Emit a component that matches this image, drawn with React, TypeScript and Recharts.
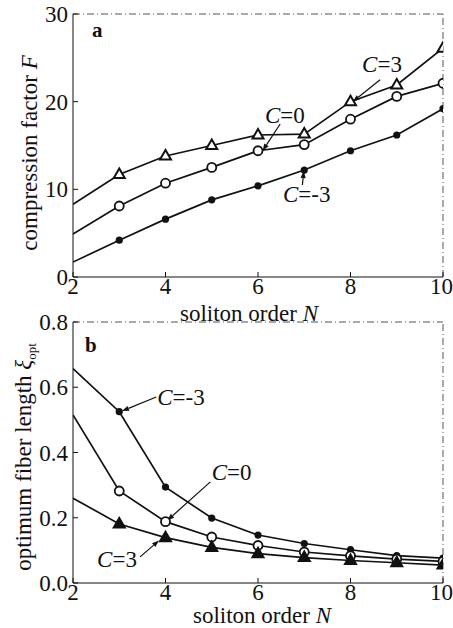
import React from 'react';
import { LineChart, Line, XAxis, YAxis, ReferenceLine, ReferenceDot, Label } from 'recharts';

const ORDERS = [2, 3, 4, 5, 6, 7, 8, 9, 10];
// panel a: compression factor F
const F_C3 = [8.3, 11.7, 13.8, 15.0, 16.2, 16.3, 20.0, 21.9, 26.1];
const F_C0 = [4.9, 8.1, 10.7, 12.5, 14.4, 15.1, 18.0, 20.6, 22.1];
const F_CM3 = [1.7, 4.2, 6.6, 8.8, 10.4, 12.2, 14.4, 16.2, 19.2];
// panel b: optimum fiber length
const XI_CM3 = [0.657, 0.525, 0.294, 0.199, 0.147, 0.121, 0.102, 0.084, 0.076];
const XI_C0 = [0.515, 0.282, 0.188, 0.141, 0.115, 0.095, 0.083, 0.073, 0.066];
const XI_C3 = [0.26, 0.181, 0.139, 0.109, 0.09, 0.078, 0.069, 0.062, 0.055];

const X_TICKS = [2, 4, 6, 8, 10];
const F_TICKS = [0, 10, 20, 30];
const XI_TICKS = [0, 0.2, 0.4, 0.6, 0.8];

// annotation arrows (data coords: from text to point)
const F_ARROWS = [
  { label: '3', tx: 8.25, ty: 23.4, x1: 8.64, y1: 22.5, x2: 8.05, y2: 20.0 },
  { label: '0', tx: 6.15, ty: 17.55, x1: 6.48, y1: 17.45, x2: 6.1, y2: 14.4 },
  { label: '-3', tx: 6.54, ty: 8.55, x1: 6.96, y1: 10.5, x2: 6.99, y2: 12.1 },
];
const XI_ARROWS = [
  { label: '-3', tx: 3.82, ty: 0.545, x1: 3.8, y1: 0.57, x2: 3.06, y2: 0.527 },
  { label: '0', tx: 5.0, ty: 0.316, x1: 4.97, y1: 0.31, x2: 4.04, y2: 0.192 },
  { label: '3', tx: 2.52, ty: 0.05, x1: 3.45, y1: 0.08, x2: 3.86, y2: 0.13 },
];

const fData = ORDERS.map((n, i) => ({ N: n, c3: F_C3[i], c0: F_C0[i], cm3: F_CM3[i] }));
const xiData = ORDERS.map((n, i) => ({ N: n, c3: XI_C3[i], c0: XI_C0[i], cm3: XI_CM3[i] }));

const FONT = '"Liberation Serif", "DejaVu Serif", serif';
const INK = '#111';

// markers, none at N=2
const triDot = (fill: string) => (p: any) => {
  const { cx, cy, index } = p;
  if (index === 0) return <g key={`t${index}`} />;
  return (
    <polygon
      key={`t${index}`}
      points={`${cx},${cy - 6} ${cx - 5.5},${cy + 3.5} ${cx + 5.5},${cy + 3.5}`}
      fill={fill}
      stroke={INK}
      strokeWidth={2}
    />
  );
};
const ringDot = (p: any) => {
  const { cx, cy, index } = p;
  if (index === 0) return <g key={`r${index}`} />;
  return <circle key={`r${index}`} cx={cx} cy={cy} r={4.5} fill="#fff" stroke={INK} strokeWidth={1.8} />;
};
const fullDot = (p: any) => {
  const { cx, cy, index } = p;
  if (index === 0) return <g key={`d${index}`} />;
  return <circle key={`d${index}`} cx={cx} cy={cy} r={3.6} fill={INK} />;
};

function Arrow(p: any) {
  const { x1, y1, x2, y2 } = p;
  const ang = Math.atan2(y2 - y1, x2 - x1);
  const L = 7;
  const W = 2.6;
  const bx = x2 - L * Math.cos(ang);
  const by = y2 - L * Math.sin(ang);
  const px = -Math.sin(ang) * W;
  const py = Math.cos(ang) * W;
  return (
    <g>
      <line x1={x1} y1={y1} x2={bx} y2={by} stroke={INK} strokeWidth={1.2} />
      <polygon points={`${x2},${y2} ${bx + px},${by + py} ${bx - px},${by - py}`} fill={INK} />
    </g>
  );
}

const cLabel = (label: string) => (p: any) => (
  <text x={p.cx} y={p.cy} fontFamily={FONT} fontSize={23} fill={INK}>
    <tspan fontStyle="italic">C</tspan>={label}
  </text>
);

const panelLetter = (letter: string) => (p: any) => (
  <text x={p.cx} y={p.cy} fontFamily={FONT} fontSize={21} fontWeight="bold" fill={INK}>
    {letter}
  </text>
);

const tickStyle = { fontSize: 23, fill: INK, fontFamily: FONT };
const frameDash = '7 3 1 3';

export default function App() {
  return (
    <div style={{ position: 'absolute', left: 0, top: 0, width: 453, height: 628, background: '#fff' }}>
      {/* panel a */}
      <div style={{ position: 'absolute', left: 0, top: 0 }}>
        <LineChart width={453} height={328} data={fData} margin={{ top: 14, right: 10, bottom: 0, left: 8 }}>
          <XAxis
            type="number"
            dataKey="N"
            domain={[2, 10]}
            ticks={X_TICKS}
            allowDataOverflow
            stroke={INK}
            tickSize={-5}
            tickMargin={6}
            tick={tickStyle}
            height={51}
          >
            <Label
              content={() => (
                <text x={249} y={321} textAnchor="middle" fontFamily={FONT} fontSize={23} fill={INK}>
                  soliton order <tspan fontStyle="italic">N</tspan>
                </text>
              )}
            />
          </XAxis>
          <YAxis
            type="number"
            domain={[0, 30]}
            ticks={F_TICKS}
            allowDataOverflow
            stroke={INK}
            tickSize={-5}
            tickMargin={10}
            tick={tickStyle}
            width={65}
          >
            <Label
              content={() => (
                <text
                  transform="translate(37,153) rotate(-90)"
                  textAnchor="middle"
                  fontFamily={FONT}
                  fontSize={23}
                  fill={INK}
                >
                  compression factor <tspan fontStyle="italic">F</tspan>
                </text>
              )}
            />
          </YAxis>
          <ReferenceLine y={30} stroke="#555" strokeDasharray={frameDash} />
          <ReferenceLine x={10} stroke="#555" strokeDasharray={frameDash} />
          <Line dataKey="c3" stroke={INK} strokeWidth={1.7} dot={triDot('#fff')} isAnimationActive={false} />
          <Line dataKey="c0" stroke={INK} strokeWidth={1.7} dot={ringDot} isAnimationActive={false} />
          <Line dataKey="cm3" stroke={INK} strokeWidth={1.7} dot={fullDot} isAnimationActive={false} />
          {F_ARROWS.map((a) => (
            <ReferenceLine
              key={`fa${a.label}`}
              segment={[{ x: a.x1, y: a.y1 }, { x: a.x2, y: a.y2 }]}
              shape={Arrow}
            />
          ))}
          {F_ARROWS.map((a) => (
            <ReferenceDot key={`ft${a.label}`} x={a.tx} y={a.ty} shape={cLabel(a.label)} />
          ))}
          <ReferenceDot x={2.41} y={27.4} shape={panelLetter('a')} />
        </LineChart>
      </div>

      {/* panel b */}
      <div style={{ position: 'absolute', left: 0, top: 300 }}>
        <LineChart width={453} height={328} data={xiData} margin={{ top: 22, right: 10, bottom: 0, left: 8 }}>
          <XAxis
            type="number"
            dataKey="N"
            domain={[2, 10]}
            ticks={X_TICKS}
            allowDataOverflow
            stroke={INK}
            tickSize={-5}
            tickMargin={6}
            tick={tickStyle}
            height={45}
          >
            <Label
              content={() => (
                <text x={262} y={323} textAnchor="middle" fontFamily={FONT} fontSize={23} fill={INK}>
                  soliton order <tspan fontStyle="italic">N</tspan>
                </text>
              )}
            />
          </XAxis>
          <YAxis
            type="number"
            domain={[0, 0.8]}
            ticks={XI_TICKS}
            allowDataOverflow
            stroke={INK}
            tickSize={-5}
            tickMargin={10}
            tick={tickStyle}
            tickFormatter={(v: number) => v.toFixed(1)}
            width={65}
          >
            <Label
              content={() => (
                <text
                  transform="translate(31,157) rotate(-90)"
                  textAnchor="middle"
                  fontFamily={FONT}
                  fontSize={23}
                  fill={INK}
                >
                  optimum fiber length <tspan fontStyle="italic">ξ</tspan>
                  <tspan fontSize={13} dy={5}>opt</tspan>
                </text>
              )}
            />
          </YAxis>
          <ReferenceLine y={0.8} stroke="#555" strokeDasharray={frameDash} />
          <ReferenceLine x={10} stroke="#555" strokeDasharray={frameDash} />
          <Line dataKey="cm3" stroke={INK} strokeWidth={1.7} dot={fullDot} isAnimationActive={false} />
          <Line dataKey="c0" stroke={INK} strokeWidth={1.7} dot={ringDot} isAnimationActive={false} />
          <Line dataKey="c3" stroke={INK} strokeWidth={1.7} dot={triDot(INK)} isAnimationActive={false} />
          {XI_ARROWS.map((a) => (
            <ReferenceLine
              key={`xa${a.label}`}
              segment={[{ x: a.x1, y: a.y1 }, { x: a.x2, y: a.y2 }]}
              shape={Arrow}
            />
          ))}
          {XI_ARROWS.map((a) => (
            <ReferenceDot key={`xt${a.label}`} x={a.tx} y={a.ty} shape={cLabel(a.label)} />
          ))}
          <ReferenceDot x={2.26} y={0.707} shape={panelLetter('b')} />
        </LineChart>
      </div>
    </div>
  );
}
